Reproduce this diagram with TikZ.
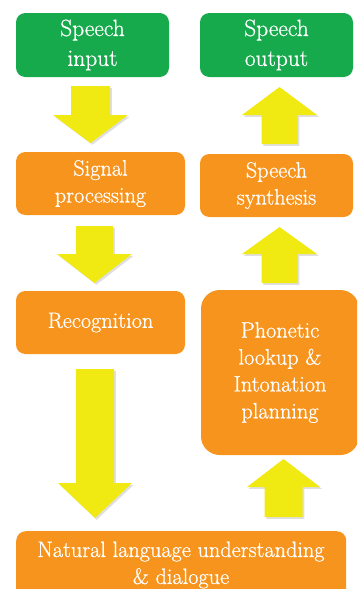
\documentclass[tikz,border=0pt]{standalone}
\usepackage{fontspec}
\newfontfamily\boxfont{Latin Modern Roman}[FakeBold=0.8]
\usetikzlibrary{positioning,shadows}
\definecolor{spgreen}{HTML}{17AA4D}
\definecolor{sporange}{HTML}{F7941E}
\definecolor{spyellow}{HTML}{F1E912}

% block arrow: centre x, tail y, head base y, tip y, shaft half width, head half width
\newcommand{\blockarrow}[6]{%
  \fill[spyellow, drop shadow={opacity=0.25, shadow xshift=1.5pt, shadow yshift=-1.5pt}]
    (#1-#5,#2) -- (#1-#5,#3) -- (#1-#6,#3) -- (#1,#4) -- (#1+#6,#3)
    -- (#1+#5,#3) -- (#1+#5,#2) -- cycle;}

\begin{document}
\begin{tikzpicture}[x=0.03cm, y=-0.03cm,
  every node/.style={font=\boxfont\fontsize{19}{23}\selectfont, text=white, align=center},
  greenbox/.style={fill=spgreen, rounded corners=8pt, minimum width=153*0.03cm, minimum height=64*0.03cm, inner sep=0pt, font=\boxfont\fontsize{20}{25.5}\selectfont},
  orangebox/.style={fill=sporange, rounded corners=8pt, minimum height=63*0.03cm, inner sep=0pt}]

  \useasboundingbox (0,0) rectangle (357,589);
  \clip (0,0) rectangle (357,589);

  % ---- Input side ----
  \node[greenbox] (sin) at (92.5,45) {Speech\\input};
  \node[orangebox, minimum width=169*0.03cm] (sig) at (100.5,183.5) {Signal\\processing};
  \node[orangebox, minimum width=169*0.03cm] (rec) at (100.5,322.5) {Recognition};

  % ---- Output side ----
  \node[greenbox] (sout) at (276.5,45) {Speech\\output};
  \node[orangebox, minimum width=153*0.03cm] (syn) at (276.5,185.5) {Speech\\synthesis};
  \node[orangebox, minimum width=158*0.03cm, minimum height=165*0.03cm, rounded corners=16pt]
    (pho) at (280,372.5) {Phonetic\\lookup \&\\Intonation\\planning};

  % ---- Bottom ----
  \node[orangebox, minimum width=330*0.03cm, minimum height=68*0.03cm, anchor=north west]
    (nlu) at (16,531) {};
  \node at (181,565) {Natural\hspace{0.3em}language\hspace{0.3em}understanding\\\& dialogue};

  % ---- Arrows ----
  \blockarrow{90.5}{86}{115}{143}{19.5}{37.5}
  \blockarrow{94.5}{226}{254}{283}{18.5}{37.5}
  \blockarrow{95}{369}{483}{518}{19}{37}
  \blockarrow{279.5}{144}{115}{87}{18}{37.5}
  \blockarrow{279.5}{283}{254}{227}{18}{37.5}
  \blockarrow{283.5}{517}{487}{459}{19}{36.5}

\end{tikzpicture}
\end{document}
